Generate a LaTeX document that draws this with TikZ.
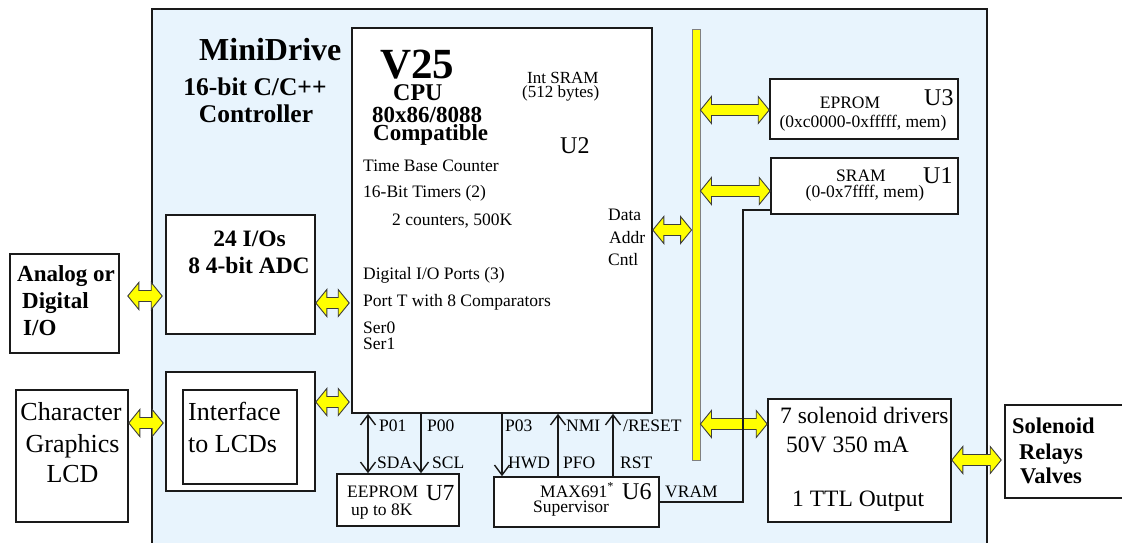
\documentclass[tikz,border=0pt]{standalone}
\usepackage{fontspec}
\setmainfont{Liberation Serif}
\usetikzlibrary{arrows.meta,calc}
\definecolor{board}{HTML}{E8F4FD}
\definecolor{busy}{HTML}{FFFF00}
\definecolor{ink}{HTML}{1A1A1A}
\tikzset{>={Straight Barb[length=10pt,width=15pt]},
  frame/.style={draw=ink,fill=board,line width=1.6pt,inner sep=0pt},
  blk/.style={draw=ink,fill=white,line width=1.6pt,inner sep=0pt},
  bar/.style={draw=gray,fill=busy,line width=0.9pt,inner sep=0pt},
  fat/.style={draw=ink!85,fill=busy,line width=0.9pt},
  sig/.style={draw=ink,line width=1.4pt},
  rm/.style={font=\fontsize{17.5}{17.5}\selectfont,anchor=base west,inner sep=0pt},
  rmc/.style={rm,anchor=base},
  ulab/.style={font=\fontsize{24}{24}\selectfont,anchor=base west,inner sep=0pt},
  big/.style={font=\fontsize{23.5}{23.5}\selectfont,anchor=base west,inner sep=0pt},
  lcdtxt/.style={font=\fontsize{26}{26}\selectfont,anchor=base west,inner sep=0pt},
  bd/.style={font=\bfseries\fontsize{23}{23}\selectfont,anchor=base west,inner sep=0pt}}
% fat yellow two-way arrow, drawn at the height of the first point
\newcommand\busarrow[2]{%
  \draw[fat] let \p1=(#1),\p2=(#2) in
    (\x1,\y1) -- (\x1+11pt,\y1+13.5pt) -- (\x1+11pt,\y1+5.5pt) -- (\x2-11pt,\y1+5.5pt)
    -- (\x2-11pt,\y1+13.5pt) -- (\x2,\y1) -- (\x2-11pt,\y1-13.5pt) -- (\x2-11pt,\y1-5.5pt)
    -- (\x1+11pt,\y1-5.5pt) -- (\x1+11pt,\y1-13.5pt) -- cycle;}

\begin{document}
\begin{tikzpicture}[x=1pt,y=-1pt]
  \useasboundingbox (0,0) rectangle (1122,542);
  \node[frame,minimum width=835pt,minimum height=539pt] (minidrive) at (569.5,278.5) {};
  % blocks
  \node[blk,minimum width=300pt,minimum height=385pt] (cpu) at (502,220.5) {};
  \node[bar,minimum width=8pt,minimum height=431pt] (bus) at (696,244.5) {};
  \node[blk,minimum width=188pt,minimum height=60pt] (eprom) at (864,109) {};
  \node[blk,minimum width=187pt,minimum height=56pt] (sram) at (864.5,186) {};
  \node[blk,minimum width=183pt,minimum height=123pt] (drv) at (859.5,460.5) {};
  \node[blk,minimum width=120pt,minimum height=93pt] (sol) at (1065,451.5) {};
  \node[blk,minimum width=149pt,minimum height=119pt] (iobox) at (240.5,274.5) {};
  \node[blk,minimum width=149pt,minimum height=119pt] (lcdif) at (240.5,431.5) {};
  \node[blk,minimum width=114pt,minimum height=94pt] (lcdin) at (240,437) {};
  \node[blk,minimum width=109pt,minimum height=99pt] (analog) at (64.5,303.5) {};
  \node[blk,minimum width=112pt,minimum height=132pt] (lcd) at (72,456) {};
  \node[blk,minimum width=122pt,minimum height=52pt] (eeprom) at (398,500) {};
  \node[blk,minimum width=165pt,minimum height=50pt] (sup) at (576.5,502) {};

  % titles
  \node[bd,font=\bfseries\fontsize{32}{32}\selectfont] (title) at (199,60) {MiniDrive};
  \node[bd,anchor=base,font=\bfseries\fontsize{25.5}{25.5}\selectfont] (sub1) at (255,95) {16-bit C/C++};
  \node[bd,anchor=base,font=\bfseries\fontsize{25.5}{25.5}\selectfont] (sub2) at (256,122) {Controller};
  \node[bd,font=\bfseries\fontsize{43}{43}\selectfont] (v25) at (380,78) {V25};
  \node[bd,font=\bfseries\fontsize{24}{24}\selectfont] (cpuname) at (393,100) {CPU};
  \node[bd] (compat1) at (372,122) {80x86/8088};
  \node[bd] (compat2) at (373,140) {Compatible};
  \node[rm,font=\fontsize{17}{17}\selectfont] (isram1) at (527,83) {Int SRAM};
  \node[rm,font=\fontsize{17}{17}\selectfont] (isram2) at (522,97) {(512 bytes)};
  \node[ulab] (u2) at (560,153) {U2};
  \node[rm] (tbc) at (363,171) {Time Base Counter};
  \node[rm] (tmr) at (363,197) {16-Bit Timers (2)};
  \node[rm] (cnt) at (392,225) {2 counters, 500K};
  \node[rm] (dio) at (363,279) {Digital I/O Ports (3)};
  \node[rm] (portt) at (363,306) {Port T with 8 Comparators};
  \node[rm] (ser0) at (363,333) {Ser0};
  \node[rm] (ser1) at (363,349) {Ser1};
  \node[rm] (data) at (608,220) {Data};
  \node[rm] (addr) at (609,243) {Addr};
  \node[rm] (cntl) at (608,265) {Cntl};
  % memories
  \node[rmc] (epromt) at (850,108) {EPROM};
  \node[rmc] (epromr) at (863,127) {(0xc0000-0xfffff, mem)};
  \node[ulab] (u3) at (924,105) {U3};
  \node[rmc] (sramt) at (861,181) {SRAM};
  \node[rmc] (sramr) at (865,197) {(0-0x7ffff, mem)};
  \node[ulab] (u1) at (923,183) {U1};
  % drivers
  \node[big] (drv1) at (780,423) {7 solenoid drivers};
  \node[big] (drv2) at (786,452) {50V 350 mA};
  \node[big] (drv3) at (792,506) {1 TTL Output};
  \node[bd,font=\bfseries\fontsize{22.5}{22.5}\selectfont] (sol1) at (1012,433) {Solenoid};
  \node[bd,font=\bfseries\fontsize{22.5}{22.5}\selectfont] (sol2) at (1019,459) {Relays};
  \node[bd,font=\bfseries\fontsize{22.5}{22.5}\selectfont] (sol3) at (1020,483) {Valves};
  % left side
  \node[bd] (ana1) at (17,281) {Analog or};
  \node[bd] (ana2) at (22,308) {Digital};
  \node[bd] (ana3) at (23,335) {I/O};
  \node[lcdtxt,anchor=base] (lcd1) at (71,420) {Character};
  \node[lcdtxt,anchor=base] (lcd2) at (72.5,452) {Graphics};
  \node[lcdtxt,anchor=base] (lcd3) at (72.5,482) {LCD};
  \node[bd,anchor=base,font=\bfseries\fontsize{23.5}{23.5}\selectfont] (io1) at (249.5,246) {24 I/Os};
  \node[bd,anchor=base,font=\bfseries\fontsize{23.5}{23.5}\selectfont] (io2) at (249,273) {8 4-bit ADC};
  \node[lcdtxt] (if1) at (188,420) {Interface};
  \node[lcdtxt] (if2) at (188,452) {to LCDs};
  % bottom chips
  \node[rm] (ee1) at (347,497) {EEPROM};
  \node[ulab,font=\fontsize{23}{23}\selectfont] (u7) at (426,500) {U7};
  \node[rm] (ee2) at (351,515) {up to 8K};
  \node[rm] (max) at (540,497) {MAX691\textsuperscript{*}};
  \node[ulab] (u6) at (622,499) {U6};
  \node[rm] (supv) at (533,512) {Supervisor};

  % fat bus arrows
  \busarrow{[xshift=8pt,yshift=7.5pt]analog.east}{[xshift=-3pt]iobox.west}
  \busarrow{[yshift=33pt]lcd.east}{[xshift=-2pt]lcdif.west}
  \busarrow{[yshift=-28.5pt]iobox.east}{[xshift=-2pt]cpu.west}
  \busarrow{[yshift=29.5pt]lcdif.east}{[xshift=-2pt]cpu.west}
  \busarrow{[yshift=-9.5pt]cpu.east}{bus.west}
  \busarrow{[yshift=134.5pt]bus.east}{eprom.west}
  \busarrow{[yshift=53.5pt]bus.east}{sram.west}
  \busarrow{[yshift=-179.5pt]bus.east}{drv.west}
  \busarrow{[yshift=0.5pt]drv.east}{[xshift=-3pt]sol.west}

  % control lines
  \foreach \n/\dx in {p01/-134,p00/-81,p03/0,nmi/56,rst/111}
    \coordinate (\n) at ([xshift=\dx pt]cpu.south);
  \draw[sig,<->] (p01) -- (p01 |- eeprom.north);
  \draw[sig,->] (p00) -- (p00 |- eeprom.north);
  \draw[sig,->] (p03) -- (p03 |- sup.north);
  \draw[sig,->] (nmi |- sup.north) -- (nmi);
  \draw[sig,->] (rst |- sup.north) -- (rst);
  \coordinate (vtap) at (743,502);
  \draw[sig] ([yshift=5pt]sram.south west) -| (vtap) -- (sup.east);

  \node[rm] (lp01) at (379,431) {P01};
  \node[rm] (lp00) at (427,431) {P00};
  \node[rm] (lp03) at (505,431) {P03};
  \node[rm] (lnmi) at (566,431) {NMI};
  \node[rm] (lrst) at (623,431) {/RESET};
  \node[rm] (lsda) at (377,468) {SDA};
  \node[rm] (lscl) at (432,468) {SCL};
  \node[rm] (lhwd) at (508,468) {HWD};
  \node[rm] (lpfo) at (563,468) {PFO};
  \node[rm] (lrst2) at (620,468) {RST};
  \node[rm] (lvram) at (665,497) {VRAM};
\end{tikzpicture}
\end{document}
